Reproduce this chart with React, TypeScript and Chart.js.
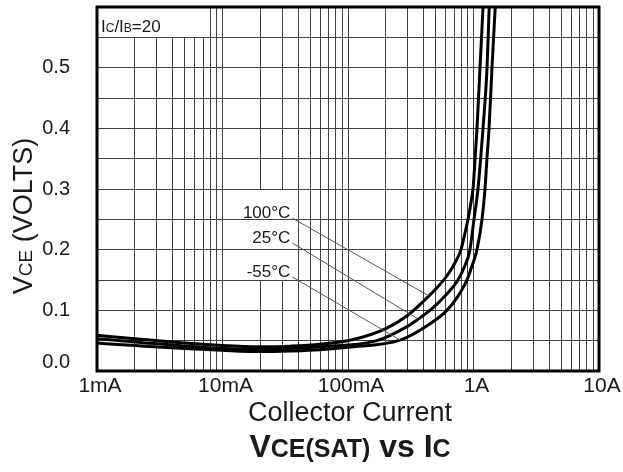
import React, { useEffect, useRef } from "react";
import { Chart, registerables } from "chart.js";

Chart.register(...registerables);

const FONT = "'Liberation Sans', Arial, Helvetica, sans-serif";
const INK = "#1a1a1a";
const GRID = "#424242";

// X axis: collector current (A), log scale
const xMin = 0.001;
const xMax = 10;
const xTickValues = [0.001, 0.01, 0.1, 1, 10];
const xTickLabels = ["1mA", "10mA", "100mA", "1A", "10A"];

// Y axis: VCE (V)
const yMin = 0;
const yMax = 0.6;
const yGridStep = 0.05;
const yTickValues = [0, 0.1, 0.2, 0.3, 0.4, 0.5];
const yTickLabels = ["0.0", "0.1", "0.2", "0.3", "0.4", "0.5"];

const seriesLabels = ["100°C", "25°C", "-55°C"];

// 100°C
const ic100 = [0.001, 0.002, 0.005, 0.01, 0.02, 0.035, 0.06, 0.11, 0.2, 0.3, 0.4, 0.5, 0.615, 0.72, 0.795, 0.85, 0.904, 0.95, 0.991, 1.03, 1.066, 1.127, 1.191];
const vce100 = [0.059, 0.053, 0.046, 0.042, 0.04, 0.041, 0.044, 0.052, 0.07, 0.092, 0.115, 0.135, 0.157, 0.18, 0.2, 0.225, 0.25, 0.275, 0.3, 0.35, 0.4, 0.5, 0.6];

// 25°C
const ic25 = [0.001, 0.002, 0.005, 0.01, 0.02, 0.035, 0.06, 0.17, 0.3, 0.36, 0.467, 0.6, 0.752, 0.86, 0.937, 1.009, 1.05, 1.086, 1.14, 1.191, 1.282, 1.334];
const vce25 = [0.053, 0.048, 0.041, 0.037, 0.036, 0.037, 0.04, 0.05, 0.074, 0.085, 0.103, 0.125, 0.15, 0.175, 0.2, 0.25, 0.275, 0.3, 0.35, 0.4, 0.5, 0.6];

// -55°C
const icM55 = [0.001, 0.002, 0.005, 0.01, 0.02, 0.035, 0.06, 0.1, 0.26, 0.4, 0.615, 0.75, 0.887, 0.98, 1.066, 1.169, 1.235, 1.28, 1.33, 1.404, 1.49];
const vceM55 = [0.046, 0.042, 0.037, 0.034, 0.032, 0.033, 0.035, 0.039, 0.051, 0.071, 0.1, 0.123, 0.15, 0.175, 0.2, 0.25, 0.3, 0.35, 0.4, 0.5, 0.6];

// Leader lines from the temperature labels to the curves
const leaderStartI = [0.036, 0.036, 0.036];
const leaderStartV = [0.252, 0.211, 0.155];
const leaderEndI = [0.44, 0.36, 0.26];
const leaderEndV = [0.124, 0.086, 0.051];

const ratioLabel = { main: ["I", "/I", "=20"], sub: ["C", "B"] };

function pts(xs: number[], ys: number[]) {
  return xs.map((v, i) => ({ x: v, y: ys[i] }));
}

function gridCurrents(): number[] {
  const out: number[] = [];
  for (let d = xMin; d < xMax * 0.999; d *= 10) {
    for (let m = 1; m <= 9; m++) out.push(+(d * m).toPrecision(6));
  }
  out.push(xMax);
  return out;
}

function gridVolts(): number[] {
  const out: number[] = [];
  const n = Math.round((yMax - yMin) / yGridStep);
  for (let i = 0; i <= n; i++) out.push(+(yMin + i * yGridStep).toFixed(4));
  return out;
}

function align(p: number) {
  return Math.round(p - 0.5) + 0.5;
}

function drawRuns(ctx: CanvasRenderingContext2D, runs: [string, number][], x: number, y: number, bold: boolean) {
  let cx = x;
  for (const [t, size] of runs) {
    ctx.font = `${bold ? "bold " : ""}${size}px ${FONT}`;
    ctx.fillText(t, cx, y);
    cx += ctx.measureText(t).width;
  }
  return cx - x;
}
function measureRuns(ctx: CanvasRenderingContext2D, runs: [string, number][], bold: boolean) {
  let w = 0;
  for (const [t, size] of runs) {
    ctx.font = `${bold ? "bold " : ""}${size}px ${FONT}`;
    w += ctx.measureText(t).width;
  }
  return w;
}

const decorPlugin = {
  id: "decor",
  beforeDatasetsDraw(chart: any) {
    const { ctx, chartArea: a, scales } = chart;
    const x = scales.x;
    const y = scales.y;
    ctx.save();
    ctx.fillStyle = "#ffffff";
    // blank box behind the IC/IB label
    const rx1 = Math.round(x.getPixelForValue(0.0075));
    const ry1 = Math.round(align(y.getPixelForValue(0.55)) - 0.5);
    ctx.fillRect(a.left + 1, a.top, rx1 - a.left - 1, ry1 - a.top);
    // blank box behind the temperature labels
    const tx0 = Math.round(x.getPixelForValue(0.013));
    const tx1 = Math.round(x.getPixelForValue(0.037));
    const ty0 = Math.round(align(y.getPixelForValue(0.3)) - 0.5) + 1;
    const ty1 = Math.round(align(y.getPixelForValue(0.15)) - 0.5);
    ctx.fillRect(tx0, ty0, tx1 - tx0, ty1 - ty0);
    ctx.strokeStyle = GRID;
    ctx.lineWidth = 1;
    for (const v of [0.2, 0.25]) {
      const py = align(y.getPixelForValue(v));
      ctx.beginPath();
      ctx.moveTo(tx0 - 1, py);
      ctx.lineTo(tx1 + 1, py);
      ctx.stroke();
    }
    ctx.restore();
  },
  afterDraw(chart: any) {
    const { ctx, chartArea: a, scales } = chart;
    const x = scales.x;
    const y = scales.y;
    ctx.save();
    // frame
    ctx.strokeStyle = "#000";
    ctx.lineWidth = 3;
    ctx.strokeRect(a.left, a.top, a.right - a.left, a.bottom - a.top);

    ctx.fillStyle = INK;
    // y tick labels
    ctx.font = `20px ${FONT}`;
    ctx.textAlign = "right";
    ctx.textBaseline = "middle";
    yTickValues.forEach((v, i) => {
      const py = Math.min(y.getPixelForValue(v), a.bottom - 9);
      ctx.fillText(yTickLabels[i], a.left - 27, py);
    });
    // x tick labels
    ctx.font = `21px ${FONT}`;
    ctx.textAlign = "center";
    ctx.textBaseline = "alphabetic";
    xTickValues.forEach((v, i) => {
      ctx.fillText(xTickLabels[i], x.getPixelForValue(v) + 3, a.bottom + 21);
    });
    // x title
    ctx.font = `27px ${FONT}`;
    ctx.fillText("Collector Current", (a.left + a.right) / 2 + 2, a.bottom + 50);

    // main title with small caps
    ctx.textAlign = "left";
    const titleRuns: [string, number][] = [["V", 32], ["CE(SAT)", 25], [" vs ", 32], ["I", 32], ["C", 25]];
    const tw = measureRuns(ctx, titleRuns, true);
    drawRuns(ctx, titleRuns, (a.left + a.right) / 2 + 2 - tw / 2, a.bottom + 86, true);

    // y title rotated
    const yRuns: [string, number][] = [["V", 27], ["CE", 19], [" (VOLTS)", 27]];
    ctx.save();
    ctx.translate(32, (a.top + a.bottom) / 2 + 27);
    ctx.rotate(-Math.PI / 2);
    const yw = measureRuns(ctx, yRuns, false);
    drawRuns(ctx, yRuns, -yw / 2, 0, false);
    ctx.restore();

    // IC/IB = 20
    const rRuns: [string, number][] = [
      [ratioLabel.main[0], 17], [ratioLabel.sub[0], 12], [ratioLabel.main[1], 17], [ratioLabel.sub[1], 12], [ratioLabel.main[2], 17],
    ];
    drawRuns(ctx, rRuns, a.left + 4, a.top + 25, false);

    // temperature labels
    ctx.font = `17px ${FONT}`;
    ctx.textAlign = "right";
    ctx.textBaseline = "alphabetic";
    seriesLabels.forEach((s, i) => {
      const px = x.getPixelForValue(leaderStartI[i]);
      const py = y.getPixelForValue(leaderStartV[i]);
      ctx.fillText(s, px - 2, py);
    });
    ctx.restore();
  },
};

export default function App() {
  const ref = useRef<HTMLCanvasElement>(null);
  useEffect(() => {
    if (!ref.current) return;
    const xGrid = gridCurrents();
    const yGrid = gridVolts();
    const curveStyle = {
      showLine: true,
      borderColor: "#000",
      backgroundColor: "#000",
      borderWidth: 3,
      pointRadius: 0,
      cubicInterpolationMode: "monotone" as const,
      fill: false,
    };
    const leaderStyle = {
      showLine: true,
      borderColor: "#555",
      borderWidth: 1,
      pointRadius: 0,
      fill: false,
    };
    const chart = new Chart(ref.current, {
      type: "scatter",
      data: {
        datasets: [
          ...seriesLabels.map((_, i) => ({
            label: "leader " + seriesLabels[i],
            data: [
              { x: leaderStartI[i], y: leaderStartV[i] },
              { x: leaderEndI[i], y: leaderEndV[i] },
            ],
            ...leaderStyle,
          })),
          { label: seriesLabels[0], data: pts(ic100, vce100), ...curveStyle },
          { label: seriesLabels[1], data: pts(ic25, vce25), ...curveStyle },
          { label: seriesLabels[2], data: pts(icM55, vceM55), ...curveStyle },
        ],
      },
      options: {
        responsive: false,
        animation: false,
        devicePixelRatio: 1,
        layout: { padding: { left: 0, right: 24, top: 7, bottom: 0 } },
        plugins: { legend: { display: false }, tooltip: { enabled: false }, title: { display: false } },
        scales: {
          x: {
            type: "logarithmic",
            min: xMin,
            max: xMax,
            afterBuildTicks: (s: any) => {
              s.ticks = xGrid.map((v) => ({ value: v }));
            },
            afterFit: (s: any) => {
              s.height = 101;
            },
            ticks: { display: false },
            grid: { color: GRID, lineWidth: 1, drawTicks: false },
            border: { display: false },
          },
          y: {
            type: "linear",
            min: yMin,
            max: yMax,
            afterBuildTicks: (s: any) => {
              s.ticks = yGrid.map((v) => ({ value: v }));
            },
            afterFit: (s: any) => {
              s.width = 97;
            },
            ticks: { display: false },
            grid: { color: GRID, lineWidth: 1, drawTicks: false },
            border: { display: false },
          },
        },
      },
      plugins: [decorPlugin],
    });
    return () => chart.destroy();
  }, []);
  return (
    <div style={{ position: "absolute", left: 0, top: 0, width: 623, height: 472, background: "#fff" }}>
      <canvas ref={ref} width={623} height={472} style={{ display: "block" }} />
    </div>
  );
}
